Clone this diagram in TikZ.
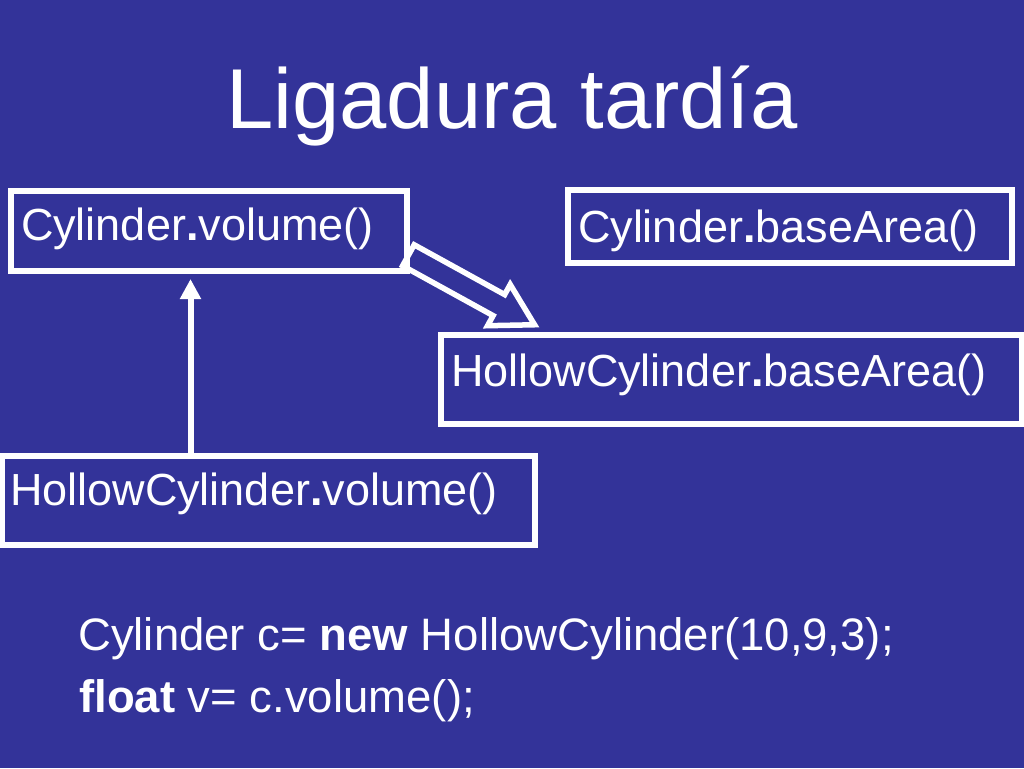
\documentclass[tikz,border=0pt]{standalone}
\usepackage{fontspec}
\setmainfont{Liberation Sans}
\usetikzlibrary{arrows.meta,shapes.arrows,calc}
\definecolor{slideblue}{RGB}{51,51,153}

\begin{document}
\begin{tikzpicture}[x=1pt,y=-1pt,
    mbox/.style={draw=white,line width=6.5pt,outer sep=0pt,anchor=north west,inner xsep=10pt,inner ysep=0pt,align=left,text=white,font=\fontsize{45}{54}\selectfont},
    code/.style={anchor=base west,text=white,inner sep=0pt,font=\fontsize{45.5}{54}\selectfont},
    hollowarrow/.style={single arrow,draw=white,line width=5.5pt,outer sep=0pt,inner xsep=0pt,inner ysep=9.25pt,single arrow head extend=11.5pt,single arrow tip angle=60,minimum height=144pt}]
    \fill[slideblue] (0,0) rectangle (1024,768);
    \useasboundingbox (0,0) rectangle (1024,768);
    \node[anchor=base,text=white,inner sep=0pt,font=\fontsize{85}{100}\selectfont] (title) at (512,128) {Ligadura tardía};
    %
    \node[mbox,text width=376pt,text height=49pt,text depth=31pt] (cv) at (11,191) {Cylinder\textbf{.}volume()};
    \node[mbox,text width=424pt,text height=52pt,text depth=21pt] (cb) at (568,190) {Cylinder\textbf{.}baseArea()};
    \node[mbox,text width=561pt,text height=51pt,text depth=38pt] (hcb) at (441,335) {HollowCylinder\textbf{.}baseArea()};
    \node[mbox,inner xsep=8pt,text width=517pt,text height=49pt,text depth=40pt] (hcv) at (2,456) {HollowCylinder\textbf{.}volume()};
    %
    \coordinate (foot) at ([xshift=-78pt]hcv.north);
    \draw[white,line width=6pt,-{Triangle[width=20pt,length=20pt]},shorten >=8pt] (foot) -- (foot |- cv.south);
    %
    \coordinate (tail) at ($(cv.south east)+(1.4,-15.7)$);
    \coordinate (head) at ($(hcb.north west)+(94,-10)$);
    \path (tail) -- (head) node[pos=0,sloped,anchor=tail,hollowarrow] (ba) {};
    %
    \node[code] (line1) at (78,650) {Cylinder c= \textbf{new} HollowCylinder(10,9,3);};
    \node[code] (line2) at (79,712) {\textbf{float} v= c.volume();};
\end{tikzpicture}
\end{document}
